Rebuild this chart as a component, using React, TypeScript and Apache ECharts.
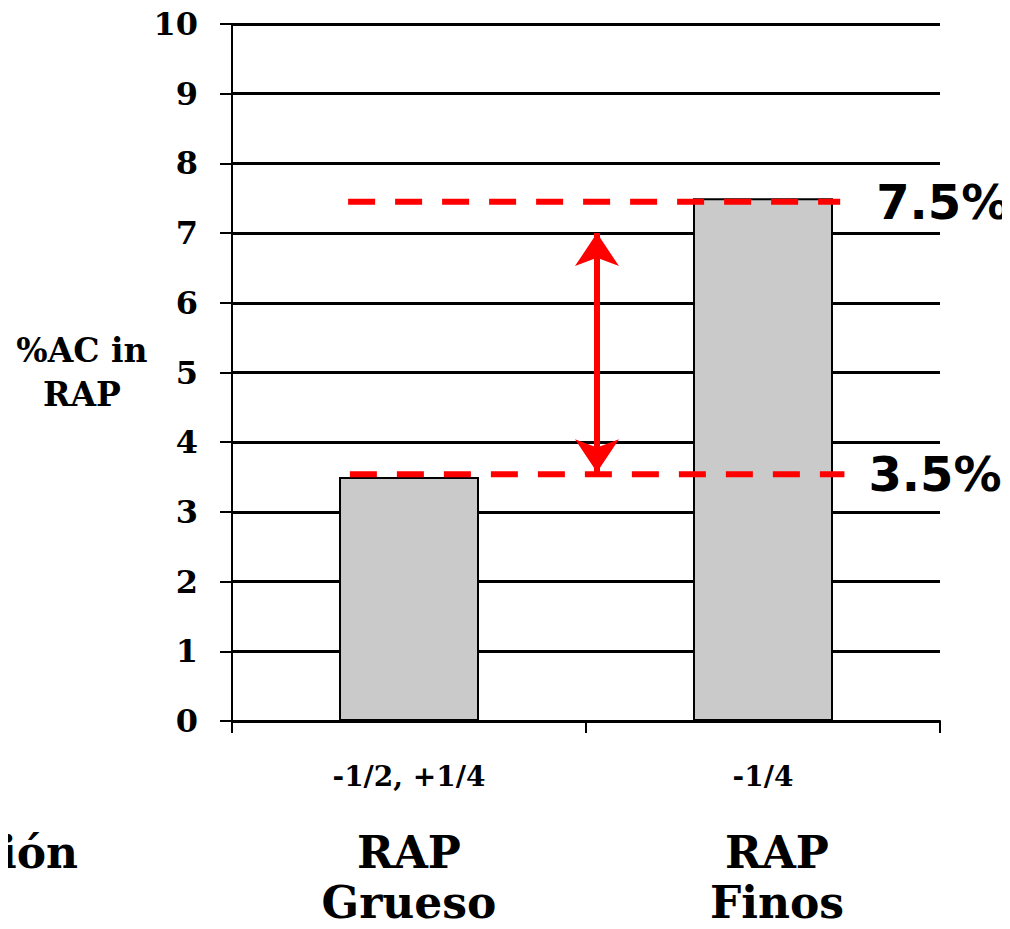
import React, { useEffect, useRef } from "react";
import * as echarts from "echarts";

const categories = ["-1/2, +1/4", "-1/4"];
const groupTop = ["RAP", "RAP"];
const groupBottom = ["Grueso", "Finos"];
const acValues = [3.5, 7.5];
const yTicks = [0, 1, 2, 3, 4, 5, 6, 7, 8, 9, 10];
const refLabels = ["3.5%", "7.5%"];
const refLevels = [3.54, 7.45];
const refStarts = [0.333, 0.328];
const refEnds = [1.73, 1.718];
const arrowX = 1.031;
const arrowFrom = 3.57;
const arrowTo = 7.0;
const leftNote = "ión";

const SERIF = "'DejaVu Serif', 'Liberation Serif', serif";
const SANS = "'DejaVu Sans', Verdana, sans-serif";

export default function App() {
  const ref = useRef<HTMLDivElement>(null);
  useEffect(() => {
    if (!ref.current) return;
    const chart = echarts.init(ref.current, null, { renderer: "svg" });
    const refSeries = refLevels.map((lvl, i) => ({
      type: "line",
      xAxisIndex: 1,
      yAxisIndex: 0,
      data: [
        [refStarts[i], lvl],
        [refEnds[i], lvl],
      ],
      symbol: "none",
      silent: true,
      z: 5,
      lineStyle: { color: "#ff0000", width: 6, type: [27, 20] },
      endLabel: {
        show: true,
        formatter: refLabels[i],
        distance: i === 0 ? 24 : 36,
        color: "#000",
        fontFamily: SANS,
        fontWeight: "bold",
        fontSize: 48,
      },
      markLine:
        i === 0
          ? {
              silent: true,
              symbol: ["arrow", "arrow"],
              symbolSize: [33, 33],
              label: { show: false },
              lineStyle: { color: "#ff0000", width: 6, type: "solid" },
              data: [
                [
                  { coord: [arrowX, arrowFrom] },
                  { coord: [arrowX, arrowTo] },
                ],
              ],
            }
          : undefined,
    }));

    const groupStyle = {
      color: "#000",
      fontFamily: SERIF,
      fontWeight: "bold",
      fontSize: 44,
      lineHeight: 50,
    };

    chart.setOption({
      animation: false,
      backgroundColor: "#ffffff",
      grid: { left: 232, right: 70, top: 24, bottom: 208 },
      xAxis: [
        {
          type: "category",
          data: categories,
          boundaryGap: true,
          axisLine: { lineStyle: { color: "#000", width: 2 } },
          axisTick: { show: true, length: 12, lineStyle: { color: "#000", width: 2 } },
          axisLabel: {
            color: "#000",
            fontFamily: SERIF,
            fontWeight: "bold",
            fontSize: 28,
            margin: 41,
          },
        },
        { type: "value", min: 0, max: 2, show: false },
        {
          type: "category",
          data: groupTop.map((t, i) => `${t}\n${groupBottom[i]}`),
          position: "bottom",
          axisLine: { show: false },
          axisTick: { show: false },
          axisLabel: {
            margin: 106,
            formatter: (v: string, idx: number) =>
              v
                .split("\n")
                .map((line) => `{${idx === 0 ? "a" : "b"}|${line}}`)
                .join("\n"),
            rich: {
              a: { ...groupStyle },
              b: { ...groupStyle, padding: [0, 0, 0, 28] },
            },
          },
        },
      ],
      yAxis: {
        type: "value",
        min: yTicks[0],
        max: yTicks[yTicks.length - 1],
        interval: 1,
        name: "%AC in\nRAP",
        nameLocation: "middle",
        nameRotate: 0,
        nameGap: 148,
        nameTextStyle: {
          color: "#000",
          fontFamily: SERIF,
          fontWeight: "bold",
          fontSize: 33,
          lineHeight: 44,
          align: "center",
          verticalAlign: "middle",
        },
        axisLine: { show: true, lineStyle: { color: "#000", width: 2 } },
        axisTick: { show: true, length: 12, lineStyle: { color: "#000", width: 2 } },
        splitLine: { show: true, lineStyle: { color: "#000", width: 3 } },
        axisLabel: {
          color: "#000",
          fontFamily: SERIF,
          fontWeight: "bold",
          fontSize: 32,
          margin: 34,
        },
      },
      graphic: [
        {
          type: "text",
          left: 0,
          top: 830,
          style: {
            text: leftNote,
            fill: "#000",
            font: `bold 44px ${SERIF}`,
          },
        },
      ],
      series: [
        {
          type: "bar",
          data: acValues,
          barWidth: 140,
          z: 3,
          itemStyle: { color: "#cacaca", borderColor: "#000", borderWidth: 2 },
        },
        ...refSeries,
      ],
    });
    return () => chart.dispose();
  }, []);
  return <div ref={ref} style={{ width: 1010, height: 929, margin: -8 }} />;
}
